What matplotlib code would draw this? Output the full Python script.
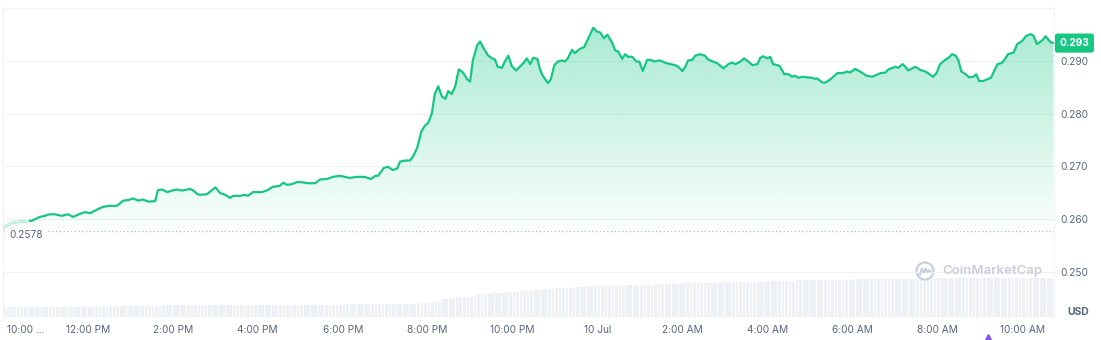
import numpy as np
import matplotlib
matplotlib.use('Agg')
import matplotlib.pyplot as plt
from matplotlib.patches import Circle
from matplotlib.lines import Line2D
from matplotlib.colors import to_rgb
from matplotlib.transforms import IdentityTransform, blended_transform_factory

plt.rcParams['font.family'] = ['Inter', 'DejaVu Sans']

# ---------------- data ----------------
# minutes after 10:00 AM (9 Jul)
minutes = [
    0, 10, 24, 35, 41, 52, 59, 66, 73, 83,
    92, 99, 109, 116, 123, 133, 141, 151, 161, 170,
    177, 184, 191, 198, 205, 215, 219, 225, 232, 239,
    246, 253, 264, 268, 275, 278, 288, 300, 307, 314,
    321, 325, 335, 342, 346, 353, 366, 374, 381, 391,
    396, 401, 408, 415, 422, 430, 441, 448, 458, 466,
    476, 483, 490, 500, 511, 520, 526, 530, 538, 544,
    551, 557, 561, 568, 575, 579, 585, 591, 596, 601,
    606, 610, 615, 620, 625, 629, 634, 639, 644, 650,
    656, 660, 664, 670, 674, 678, 685, 691, 695, 699,
    705, 709, 714, 719, 725, 731, 736, 740, 745, 749,
    755, 759, 763, 770, 774, 779, 784, 790, 794, 798,
    804, 808, 815, 821, 827, 834, 839, 844, 849, 854,
    861, 865, 869, 875, 879, 883, 889, 895, 899, 904,
    910, 916, 920, 928, 937, 943, 950, 954, 960, 964,
    968, 974, 978, 984, 992, 996, 1003, 1009, 1018, 1025,
    1030, 1035, 1042, 1047, 1053, 1059, 1066, 1070, 1074, 1080,
    1084, 1088, 1097, 1104, 1110, 1115, 1119, 1124, 1129, 1136,
    1143, 1148, 1150, 1158, 1162, 1169, 1179, 1186, 1193, 1197,
    1204, 1211, 1220, 1228, 1240, 1247, 1251, 1261, 1265, 1271,
    1275, 1279, 1289, 1296, 1303, 1307, 1314, 1319, 1324, 1331,
    1336, 1341, 1346, 1350, 1354, 1360, 1365, 1371, 1375, 1379,
    1385, 1392, 1396, 1405, 1411, 1415, 1420, 1428, 1433, 1440,
    1446, 1452, 1456, 1461, 1469, 1473, 1480, 1484,
]

price = [
    0.2582, 0.2592, 0.2595, 0.2596, 0.2597, 0.2604, 0.2606, 0.2609, 0.2609, 0.2606,
    0.2609, 0.2604, 0.2610, 0.2613, 0.2611, 0.2618, 0.2623, 0.2625, 0.2625, 0.2635,
    0.2636, 0.2639, 0.2635, 0.2637, 0.2633, 0.2634, 0.2655, 0.2656, 0.2651, 0.2654,
    0.2656, 0.2654, 0.2657, 0.2655, 0.2647, 0.2646, 0.2647, 0.2660, 0.2649, 0.2646,
    0.2640, 0.2644, 0.2644, 0.2646, 0.2644, 0.2651, 0.2651, 0.2655, 0.2661, 0.2663,
    0.2669, 0.2665, 0.2666, 0.2670, 0.2670, 0.2668, 0.2668, 0.2675, 0.2676, 0.2680,
    0.2682, 0.2680, 0.2678, 0.2680, 0.2680, 0.2676, 0.2682, 0.2682, 0.2697, 0.2699,
    0.2693, 0.2696, 0.2709, 0.2711, 0.2711, 0.2718, 0.2734, 0.2766, 0.2777, 0.2783,
    0.2801, 0.2837, 0.2852, 0.2833, 0.2828, 0.2843, 0.2837, 0.2852, 0.2884, 0.2878,
    0.2865, 0.2861, 0.2902, 0.2930, 0.2937, 0.2927, 0.2911, 0.2905, 0.2903, 0.2889,
    0.2887, 0.2899, 0.2910, 0.2890, 0.2882, 0.2890, 0.2897, 0.2905, 0.2894, 0.2906,
    0.2904, 0.2883, 0.2871, 0.2858, 0.2865, 0.2892, 0.2899, 0.2901, 0.2899, 0.2905,
    0.2921, 0.2915, 0.2923, 0.2926, 0.2943, 0.2963, 0.2956, 0.2954, 0.2943, 0.2950,
    0.2934, 0.2920, 0.2918, 0.2904, 0.2913, 0.2908, 0.2908, 0.2899, 0.2899, 0.2881,
    0.2902, 0.2902, 0.2899, 0.2901, 0.2896, 0.2894, 0.2892, 0.2889, 0.2881, 0.2889,
    0.2901, 0.2902, 0.2910, 0.2913, 0.2910, 0.2903, 0.2899, 0.2896, 0.2886, 0.2894,
    0.2897, 0.2894, 0.2899, 0.2905, 0.2899, 0.2892, 0.2894, 0.2906, 0.2909, 0.2905,
    0.2908, 0.2894, 0.2891, 0.2875, 0.2875, 0.2870, 0.2872, 0.2868, 0.2870, 0.2869,
    0.2868, 0.2866, 0.2867, 0.2859, 0.2859, 0.2865, 0.2877, 0.2877, 0.2880, 0.2878,
    0.2885, 0.2880, 0.2872, 0.2870, 0.2877, 0.2878, 0.2884, 0.2889, 0.2887, 0.2894,
    0.2889, 0.2882, 0.2889, 0.2883, 0.2880, 0.2877, 0.2870, 0.2877, 0.2894, 0.2902,
    0.2906, 0.2913, 0.2910, 0.2901, 0.2880, 0.2875, 0.2869, 0.2870, 0.2875, 0.2862,
    0.2862, 0.2866, 0.2868, 0.2894, 0.2896, 0.2902, 0.2913, 0.2916, 0.2932, 0.2938,
    0.2948, 0.2951, 0.2948, 0.2932, 0.2940, 0.2947, 0.2936, 0.2934,
]

ref_price = 0.2578          # opening price (dotted reference line)

vol_step_min = 5            # one volume bar every 5 minutes
volume = [
    10.3, 10.3, 10.3, 10.3, 10.3, 10.3, 10.3, 10.3, 10.3, 10.3, 10.3, 10.3,
    10.3, 10.3, 10.3, 10.3, 10.3, 10.3, 10.3, 10.3, 10.3, 10.3, 10.3, 10.3,
    10.3, 10.3, 10.3, 11.0, 11.0, 11.0, 11.0, 11.0, 11.0, 11.0, 11.0, 11.0,
    11.0, 11.0, 11.0, 11.0, 11.0, 11.0, 11.0, 11.0, 11.0, 11.0, 12.0, 12.0,
    12.0, 12.0, 12.0, 12.0, 12.0, 12.0, 12.0, 12.0, 12.0, 12.0, 12.0, 12.0,
    12.0, 12.0, 12.0, 12.0, 12.0, 12.0, 12.0, 12.0, 12.0, 12.0, 12.0, 12.0,
    12.2, 12.2, 12.2, 12.2, 12.2, 12.2, 12.2, 12.2, 12.2, 12.2, 12.2, 12.2,
    12.4, 12.4, 12.4, 12.4, 12.4, 12.4, 12.4, 12.4, 12.4, 12.4, 12.4, 12.4,
    12.5, 12.5, 12.5, 12.5, 12.5, 12.5, 12.5, 12.5, 12.5, 12.5, 12.5, 12.5,
    12.7, 12.7, 12.7, 12.7, 12.7, 12.7, 12.7, 12.7, 12.7, 13.7, 13.7, 13.7,
    13.7, 14.7, 16.3, 16.3, 18.0, 18.0, 18.0, 18.0, 20.0, 20.0, 20.0, 20.0,
    20.0, 20.0, 22.5, 22.5, 22.5, 22.5, 24.0, 24.0, 24.0, 24.0, 24.7, 24.7,
    24.7, 24.7, 25.7, 25.7, 25.7, 25.7, 26.7, 26.7, 26.7, 27.7, 27.7, 27.7,
    28.7, 28.7, 28.7, 28.7, 28.7, 30.0, 30.0, 30.0, 30.5, 30.5, 30.5, 31.0,
    31.0, 31.0, 31.0, 31.3, 31.3, 31.3, 31.6, 31.6, 31.6, 32.0, 32.0, 32.0,
    32.3, 32.3, 32.3, 32.3, 32.8, 32.8, 32.8, 32.8, 33.2, 33.2, 33.2, 33.2,
    33.6, 33.6, 33.6, 33.6, 34.0, 34.0, 34.0, 34.0, 34.3, 34.3, 34.3, 34.3,
    34.7, 34.7, 34.7, 34.7, 35.0, 35.0, 35.0, 35.0, 35.4, 35.4, 35.4, 35.4,
    35.8, 35.8, 35.8, 35.8, 36.2, 36.2, 36.2, 36.2, 36.6, 36.6, 36.6, 36.6,
    37.0, 37.0, 37.0, 37.0, 37.0, 37.0, 37.4, 37.4, 37.4, 37.4, 37.4, 37.4,
    37.8, 37.8, 37.8, 37.8, 37.8, 37.8, 38.0, 38.0, 38.0, 38.0, 38.0, 38.0,
    38.3, 38.3, 38.3, 38.3, 38.3, 38.3, 38.3, 38.3, 38.3, 38.3, 38.3, 38.3,
    38.6, 38.6, 38.6, 38.6, 38.6, 38.6, 38.6, 38.6, 38.6, 38.6, 38.6, 38.6,
    38.9, 38.9, 38.9, 38.9, 38.9, 38.9, 38.9, 38.9, 38.9, 38.9, 38.9, 38.9,
    39.0, 39.0, 39.0, 39.0, 39.0, 39.0, 39.0, 39.0, 39.0,
]

tick_minutes = [120, 240, 360, 480, 600, 720, 840, 960, 1080, 1200, 1320, 1440]
tick_labels = ["12:00 PM", "2:00 PM", "4:00 PM", "6:00 PM", "8:00 PM", "10:00 PM",
               "10 Jul", "2:00 AM", "4:00 AM", "6:00 AM", "8:00 AM", "10:00 AM"]
first_label = "10:00 ..."
y_ticks = [0.250, 0.260, 0.270, 0.280, 0.290]
event_minute = 1392

# ---------------- style ----------------
GREEN = '#16c784'
TXT = '#58667e'
GRID = '#eff2f5'
FS = 7.3

W, H = 1101, 340
fig = plt.figure(figsize=(W / 100, H / 100), dpi=100)
L, R, T, B = 3, 1054, 8.3, 317
pos = [L / W, 1 - B / H, (R - L) / W, (B - T) / H]
axv = fig.add_axes(pos, zorder=0)
ax = fig.add_axes(pos, zorder=1)
ax.patch.set_alpha(0)

xmax = 1485
ylo, yhi = 0.2414, 0.300

# volume bars
vt = np.arange(len(volume)) * vol_step_min
axv.bar(vt, volume, width=vol_step_min * 0.78, align='edge', color='#edf0f5', linewidth=0)
axv.set_xlim(0, xmax)
axv.set_ylim(0, max(volume) * 7.9)
axv.axis('off')

# gridlines
for v in y_ticks + [0.300]:
    ax.axhline(v, color=GRID, lw=0.8, zorder=0.5)

# gradient fill
poly = ax.fill_between(minutes, price, ref_price, facecolor='none', edgecolor='none')
grad = np.zeros((256, 1, 4))
grad[..., :3] = to_rgb(GREEN)
grad[..., 3] = np.linspace(0.02, 0.36, 256)[:, None]
im = ax.imshow(grad, extent=[0, xmax, ref_price, max(price)], origin='lower',
               aspect='auto', zorder=1, interpolation='bilinear')
im.set_clip_path(poly.get_paths()[0], transform=ax.transData)

# price line
ax.plot(minutes, price, color=GREEN, lw=1.6, zorder=3, solid_joinstyle='round',
        solid_capstyle='round')
ax.plot(minutes[:4], price[:4], color='#d3f4e4', lw=1.6, zorder=4)

# reference line and label
ax.axhline(ref_price, color='#d9a9b0', lw=0.9, ls=(0, (1, 2)), zorder=2)
ax.annotate(f"{ref_price:.4f}", xy=(0.0065, ref_price), xycoords=('axes fraction', 'data'),
            xytext=(0, -3), textcoords='offset points', ha='left', va='center',
            fontsize=FS, color=TXT,
            bbox=dict(boxstyle='square,pad=0.25', fc='white', ec='none'), zorder=5)

ax.set_xlim(0, xmax)
ax.set_ylim(ylo, yhi)

# axes / ticks
ax.spines['bottom'].set_visible(False)
for s in ['left', 'right', 'top']:
    ax.spines[s].set_color(GRID)
    ax.spines[s].set_linewidth(0.8)

ax.yaxis.tick_right()
ax.set_yticks(y_ticks)
ax.set_yticklabels([f"{v:.3f}" for v in y_ticks])
ax.tick_params(axis='y', length=0, pad=4.3, labelsize=FS, labelcolor=TXT)

ax.set_xticks(tick_minutes)
ax.set_xticklabels(tick_labels)
ax.tick_params(axis='x', length=0, pad=5.5, labelsize=FS, labelcolor=TXT)
fig.text(7 / W, 1 - 330 / H, first_label, ha='left', va='center', fontsize=FS, color=TXT)

# last price tag
btr = blended_transform_factory(ax.transAxes, ax.transData)
ax.text(1 + 5.5 / (R - L), price[-1], f"{price[-1]:.3f}", transform=btr, ha='left',
        va='center', color='white', fontweight='bold', fontsize=FS,
        bbox=dict(boxstyle='round,pad=0.45,rounding_size=0.25', fc=GREEN, ec='none'),
        clip_on=False, zorder=6)

fig.text(1078 / W, 1 - 312 / H, 'USD', ha='center', va='center', fontsize=7.5,
         fontweight='bold', color=TXT)

# watermark
WM = '#c8cedb'
cx, cy = 925, H - 271
fig.add_artist(Circle((cx, cy), 8.5, transform=IdentityTransform(), fill=False,
                      ec=WM, lw=1.5))
fig.add_artist(Line2D([cx - 5, cx - 3.2, cx - 1.2, cx + 0.6, cx + 2.4, cx + 4.2, cx + 5.5],
                      [cy - 3.5, cy + 2.5, cy - 1.5, cy + 2.5, cy - 1.0, cy + 0.8, cy - 0.5],
                      transform=IdentityTransform(), color=WM, lw=1.5,
                      solid_joinstyle='round'))
fig.text(942 / W, 1 - 271 / H, 'CoinMarketCap', ha='left', va='center', fontsize=9.5,
         fontweight='semibold', color=WM)

# event marker
ex = L + event_minute / xmax * (R - L)
fig.add_artist(Line2D([ex], [1.5], marker='^', ms=6.5, color='#7f50ff',
                      transform=IdentityTransform(), linestyle='none'))

fig.savefig('out.png', dpi=100)
